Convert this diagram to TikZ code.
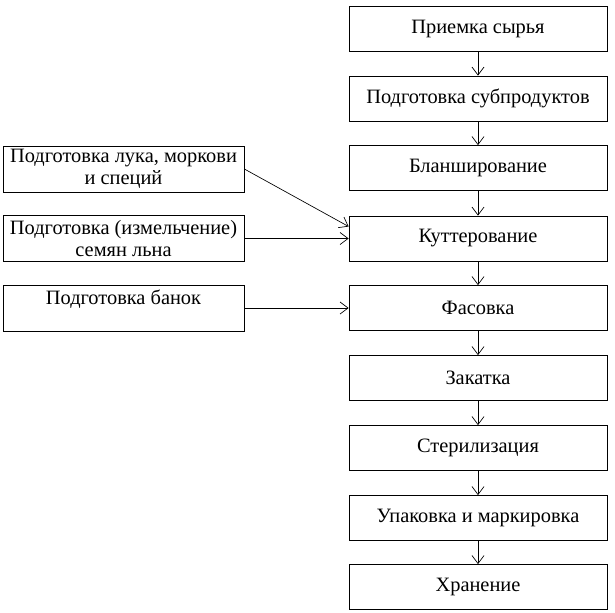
\documentclass[tikz,border=0pt]{standalone}
\usepackage{fontspec}
\setmainfont{Liberation Serif}
\usepackage{tikz}
\usetikzlibrary{arrows.meta}

\tikzset{
  stagebox/.style={draw, line width=0.6pt, minimum width=193.5pt, minimum height=33.75pt, inner sep=0pt, align=center, font=\fontsize{15.3}{16.5}\selectfont},
  prepbox/.style={draw, line width=0.6pt, minimum width=180.75pt, minimum height=34.5pt, inner sep=0pt, align=center, font=\fontsize{15.3}{16.5}\selectfont},
  flow/.style={-{Straight Barb[length=6pt,width=9pt]}, line width=0.5pt}
}

\begin{document}
\begin{tikzpicture}[x=0.75pt,y=0.75pt,yscale=-1,xscale=1]
%set diagram frame 615 x 612
\useasboundingbox (0,0) rectangle (615,612);

%Right column
\node [stagebox] (priem) at (478,28.5) {Приемка сырья};
\node [stagebox] (subpr) at (478,98.5) {Подготовка субпродуктов};
\node [stagebox] (blansh) at (478,168) {Бланширование};
\node [stagebox] (kutt) at (478,238.5) {Куттерование};
\node [stagebox] (fas) at (478,308) {Фасовка};
\node [stagebox] (zak) at (478,378) {Закатка};
\node [stagebox] (steril) at (478,448) {Стерилизация};
\node [stagebox] (upak) at (478,518) {Упаковка и маркировка};
\node [stagebox] (hran) at (478,587) {Хранение};

%Left column
\node [prepbox] (luk) at (123.5,169) {Подготовка лука, моркови\\и специй};
\node [prepbox] (semya) at (123.5,238.5) {Подготовка (измельчение)\\семян льна};
\node [prepbox] (bank) at (123.5,308) {Подготовка банок\\\phantom{x}};

%Vertical arrows
\draw [flow] (priem) -- (subpr);
\draw [flow] (subpr) -- (blansh);
\draw [flow] (blansh) -- (kutt);
\draw [flow] (kutt) -- (fas);
\draw [flow] (fas) -- (zak);
\draw [flow] (zak) -- (steril);
\draw [flow] (steril) -- (upak);
\draw [flow] (upak) -- (hran);

%Side arrows
\draw [flow] (luk.east) -- ([yshift=-9pt]kutt.west);
\draw [flow] (semya.east) -- (kutt.west);
\draw [flow] (bank.east) -- (fas.west);
\end{tikzpicture}
\end{document}
